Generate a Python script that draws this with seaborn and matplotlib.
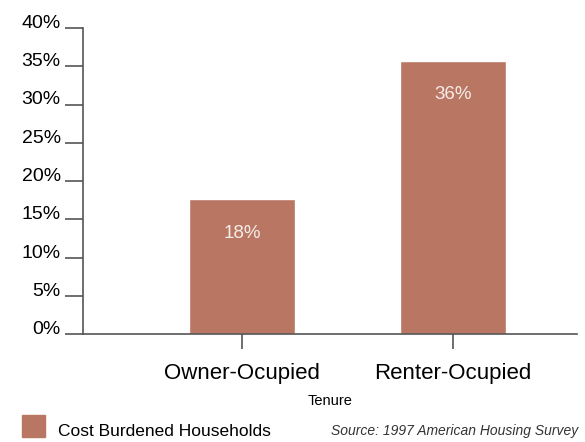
import matplotlib
matplotlib.use("Agg")
import matplotlib.pyplot as plt
import matplotlib.patches as mpatches
import seaborn as sns
import pandas as pd

tenure = ["Owner-Ocupied", "Renter-Ocupied"]
share = [17.6, 35.7]
bar_labels = ["18%", "36%"]
yticks = [0, 5, 10, 15, 20, 25, 30, 35, 40]

df = pd.DataFrame({"Tenure": tenure, "share": share})

sns.set_style("ticks")
plt.rcParams["font.family"] = ["Liberation Sans", "DejaVu Sans"]

bar_color = "#b97763"
fig = plt.figure(figsize=(5.85, 4.42), dpi=100)
ax = fig.add_axes([83 / 585, 1 - 334 / 442, (577 - 83) / 585, (334 - 28) / 442])

sns.barplot(data=df, x="Tenure", y="share", color=bar_color, width=0.5,
            saturation=1, ax=ax)

ax.set_xlim(-0.754, 1.588)
ax.set_ylim(0, 40)
ax.set_yticks(yticks)
ax.set_yticklabels([f"{v}%" for v in yticks], fontsize=14, color="black")
ax.set_xticks(range(len(tenure)))
ax.set_xticklabels(tenure, fontsize=16, color="black")

# y labels sit a little above their ticks in the original
fig.canvas.draw()
for lab in ax.get_yticklabels():
    lab.set_verticalalignment("baseline")

for side in ["top", "right"]:
    ax.spines[side].set_visible(False)
for side in ["left", "bottom"]:
    ax.spines[side].set_color("#555555")
    ax.spines[side].set_linewidth(1.2)

ax.tick_params(axis="y", direction="out", length=13, width=1.2, color="#555555", pad=3)
ax.tick_params(axis="x", direction="out", length=11, width=1.2, color="#555555", pad=10)

ax.set_xlabel("Tenure", fontsize=10.5, labelpad=7, color="black")
ax.set_ylabel("")

for i, (v, lab) in enumerate(zip(share, bar_labels)):
    ax.text(i, v - 4.4, lab, ha="center", va="center", color="#f5ece8", fontsize=13.5)

# legend and source at bottom
fig.patches.append(mpatches.Rectangle((22 / 585, 1 - 437 / 442), 23 / 585, 22 / 442,
                                      transform=fig.transFigure, color=bar_color))
fig.text(58 / 585, 1 - 431 / 442, "Cost Burdened Households", fontsize=12.5,
         va="center", color="black")
fig.text(578 / 585, 1 - 431 / 442, "Source: 1997 American Housing Survey", fontsize=10,
         va="center", ha="right", style="italic", color="#333333")

fig.savefig("out.png", dpi=100)
